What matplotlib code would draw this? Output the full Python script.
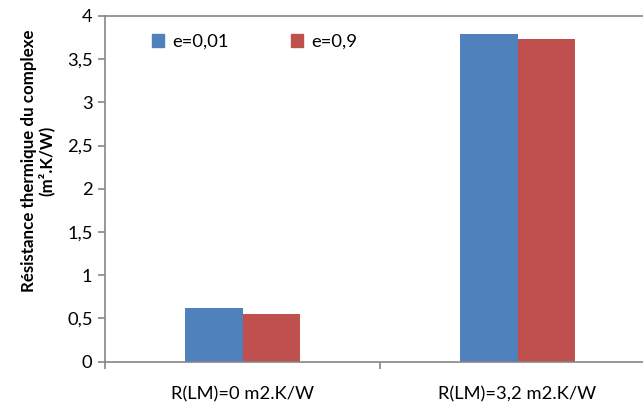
import matplotlib
matplotlib.use("Agg")
import matplotlib.pyplot as plt
from matplotlib.patches import Patch
from matplotlib.ticker import FuncFormatter, FixedLocator

# données
categories = ["R(LM)=0 m2.K/W", "R(LM)=3,2 m2.K/W"]
series_names = ["e=0,01", "e=0,9"]
vals_e001 = [0.62, 3.79]
vals_e09 = [0.55, 3.73]
colors = ["#4F81BD", "#C0504D"]

plt.rcParams['font.family'] = ['Lato', 'DejaVu Sans']
FS = 13.2

W, H = 643, 407
fig = plt.figure(figsize=(W / 100, H / 100), dpi=100)
# la zone de tracé déborde un peu à droite, comme sur l'original
ax = fig.add_axes([105 / W, (H - 361.5) / H, 550 / W, 345.5 / H])

x = [0, 1]
bw = 0.208
ax.bar([i - bw / 2 for i in x], vals_e001, width=bw, color=colors[0], label=series_names[0])
ax.bar([i + bw / 2 for i in x], vals_e09, width=bw, color=colors[1], label=series_names[1])

ax.set_xlim(-0.5, 1.5)
ax.set_ylim(0, 4)
ax.set_yticks([0, 0.5, 1, 1.5, 2, 2.5, 3, 3.5, 4])
ax.yaxis.set_major_formatter(FuncFormatter(lambda v, p: f"{v:g}".replace('.', ',')))
ax.set_xticks(x)
ax.set_xticklabels(categories)
ax.xaxis.set_minor_locator(FixedLocator([-0.5, 0.5, 1.5]))

gray = "#868686"
for s in ['left', 'bottom', 'top']:
    ax.spines[s].set_color(gray)
    ax.spines[s].set_linewidth(1.2)
ax.spines['right'].set_visible(False)
ax.tick_params(axis='y', length=5, width=1.2, color=gray, labelsize=FS, pad=4)
ax.tick_params(axis='x', which='major', length=0, labelsize=FS, pad=18)
ax.tick_params(axis='x', which='minor', length=5, width=1.2, color=gray)

fig.text(38 / W, 1 - 161 / H, "Résistance thermique du complexe\n(m².K/W)",
         rotation=90, ha='center', va='center', multialignment='center',
         fontsize=12.2, fontweight='bold', linespacing=1.05)

handles = [Patch(color=c) for c in colors]
ax.legend(handles, series_names, loc='upper left', bbox_to_anchor=(152 / W, 1 - 34 / H),
          bbox_transform=fig.transFigure, ncol=2, frameon=False, fontsize=FS,
          handlelength=0.65, handleheight=0.65, handletextpad=0.45, columnspacing=3.4,
          borderaxespad=0, borderpad=0)

fig.savefig("out.png", dpi=100)
